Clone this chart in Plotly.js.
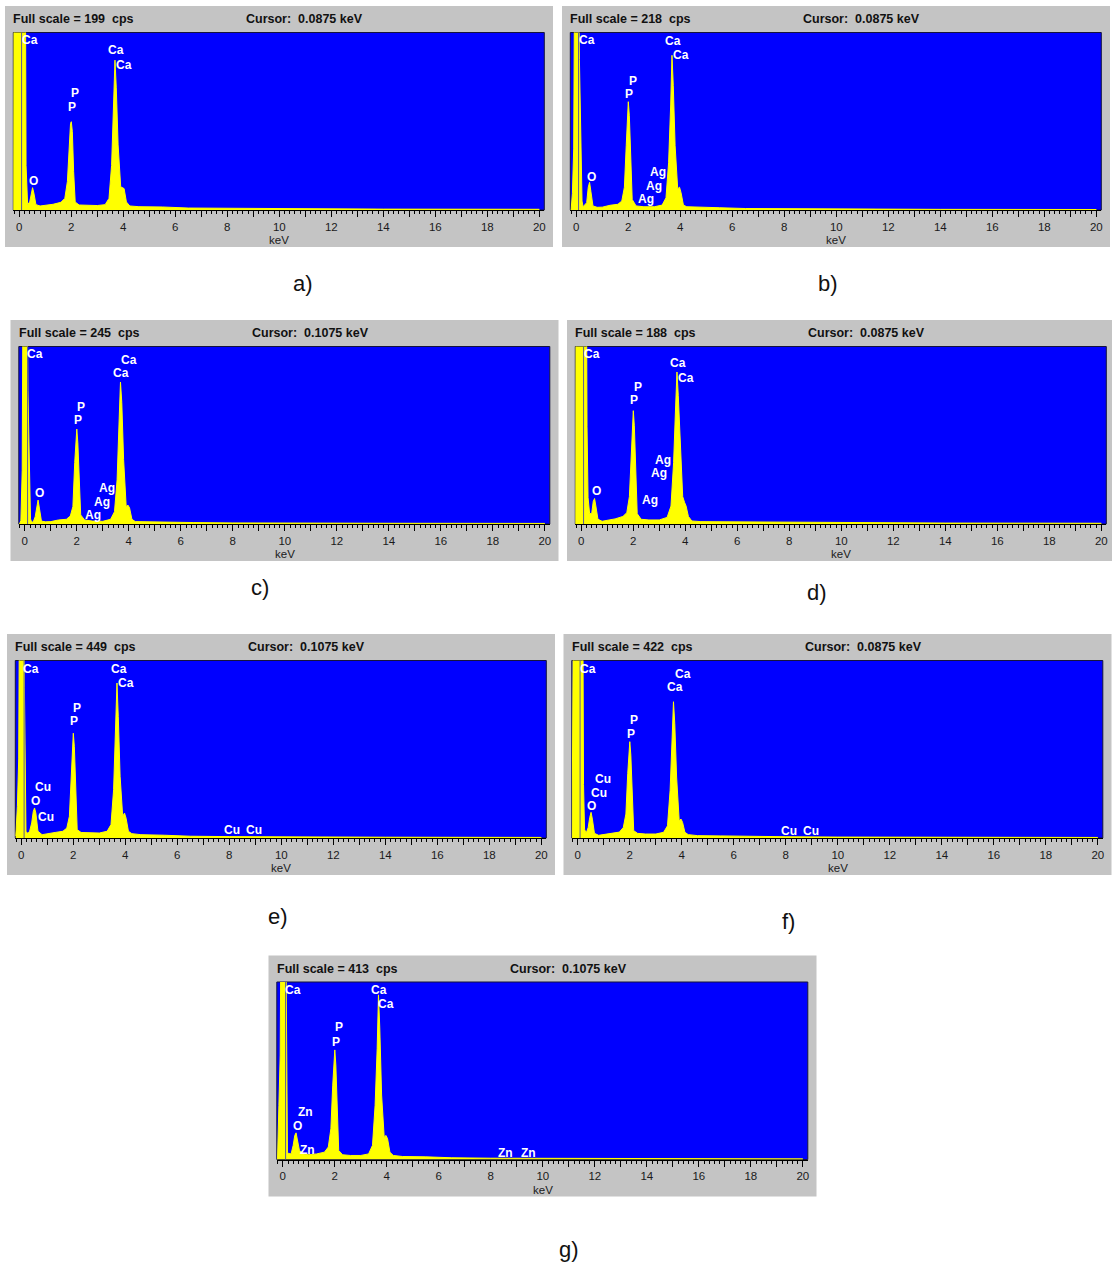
<!DOCTYPE html>
<html><head><meta charset="utf-8">
<script src="https://cdn.plot.ly/plotly-3.0.1.min.js"></script>
<style>html,body{margin:0;padding:0;background:#fff}#chart{width:1112px;height:1269px}</style>
</head><body><div id="chart"></div>
<script>
// ---------- DATA ----------
const energyKeV = [-0.22,-0.2,-0.15,-0.1,-0.05,0.05,0.12,0.18,0.22,0.26,0.32,0.4,0.46,0.51,0.56,0.64,0.8,1.0,1.3,1.6,1.75,1.85,1.92,1.97,2.0,2.04,2.09,2.15,2.3,2.6,3.0,3.3,3.45,3.55,3.63,3.68,3.73,3.8,3.9,3.97,4.03,4.12,4.25,4.6,5.5,6.5,8,10,14,20];

const countsA = [0,400,400,400,400, 400,400,400,400,50, 6,9,20,25,19, 6,4.5,5,6.4,8.6, 13,32,80,97,99, 88,43,9,5.6,5, 5,6,13,50,118, 168,137,73,26,25, 24,9,4.5,3.7,3.4, 2.2,1.9,1.3,1,0.8];
const countsB = [0,0,20,75,400, 400,185,65,11,4, 6,9,28,34,23, 5,3.3,3.5,5.8,7, 11,28,79,124,133, 116,58,13,5,4, 4,6,15,58,129, 190,153,79,26,28, 21,6,4,3.5,2.8, 1.8,1.5,1.2,0.8,0.6];
const countsC = [0,0,5,74,500, 500,184,49,7,3, 2.5,10,26,33,22, 4,3,3.3,5.6,6.5, 11,24,85,124,131, 112,52,12.5,5.6,4, 3.7,6.5,17,61,145, 196,168,89,24,26, 22,6.5,3.3,3,2.5, 2,1.5,1.2,1,0.8];
const countsD = [0,400,400,400,400, 400,400,400,103,28, 11,11,24,27,19, 5,2.9,3.6,5.4,8, 12,29,76,115,120, 104,51,11,5,4.3, 4.3,7,19,65,126, 161,136,83,29,23, 19,8,3.2,2.5,2.3, 2,1.6,1.2,1,0.8];
const countsE = [5,20,80,200,900, 900,380,17,12,13, 17,38,67,76,63, 17,8.4,10,14,17, 25,55,164,248,265, 232,105,21,14,12.6, 12.6,17,34,122,265, 392,307,156,55,63, 50,17,11,8.4,7, 4.5,3.5,2.5,2,1.5];
const countsF = [0,180,800,800,800, 800,800,800,127,21, 11,25,49,61,45, 11,6.4,8,12,14, 25,57,153,217,229, 197,89,17.5,11,9.5, 9.5,13.5,29,113,240, 324,272,145,41,45, 37,13.5,8,5.6,5, 3.5,3,2.2,1.7,1.3];
const countsG = [0,8,126,243,800, 800,500,17,14,13, 13,33,56,62,45, 21,13,11,13,17, 29,72,173,243,255, 220,103,21,11,9.4, 9.4,13,33,126,259, 383,306,150,52,56, 48,17,9.4,7,6.2, 4,3,2.5,2,1.5];

const fullScaleCps = [199,218,245,188,449,422,413];
const cursorKeV = [0.0875,0.0875,0.1075,0.0875,0.1075,0.0875,0.1075];
const panelLetters = ['a)','b)','c)','d)','e)','f)','g)'];

const tickVals = [0,1,2,3,4,5,6,7,8,9,10,11,12,13,14,15,16,17,18,19,20];
const tickLabels = ['0','','2','','4','','6','','8','','10','','12','','14','','16','','18','','20'];

const labelTextA = ['Ca','Ca','Ca','P','P','O'];
const labelKeVA  = [0.06,3.37,3.68,1.95,1.85,0.35];
const labelCpsA  = [191,179,163,131,115,33];
const labelTextB = ['Ca','Ca','Ca','P','P','O','Ag','Ag','Ag'];
const labelKeVB  = [0.05,3.36,3.68,1.97,1.85,0.36,2.8,2.64,2.32];
const labelCpsB  = [209,207,190,158,142,41,47,30,13];
const labelTextC = ['Ca','Ca','Ca','P','P','O','Ag','Ag','Ag'];
const labelKeVC  = [0.03,3.67,3.35,1.97,1.85,0.36,2.8,2.64,2.29];
const labelCpsC  = [234,227,208,161,143,43,50,31,12];
const labelTextD = ['Ca','Ca','Ca','P','P','O','Ag','Ag','Ag'];
const labelKeVD  = [0.05,3.36,3.68,1.97,1.85,0.36,2.8,2.64,2.29];
const labelCpsD  = [180,170,155,145,131,35,68,54,25];
const labelTextE = ['Ca','Ca','Ca','P','P','Cu','O','Cu','Cu','Cu'];
const labelKeVE  = [0.03,3.41,3.68,1.96,1.83,0.5,0.35,0.61,7.77,8.6];
const labelCpsE  = [427,427,393,329,295,128,93,53,19,19];
const labelTextF = ['Ca','Ca','Ca','P','P','Cu','Cu','O','Cu','Cu'];
const labelKeVF  = [0.03,3.7,3.38,1.97,1.84,0.61,0.48,0.32,7.79,8.64];
const labelCpsF  = [401,390,358,280,247,141,107,76,16,16];
const labelTextG = ['Ca','Ca','Ca','P','P','Zn','O','Zn','Zn','Zn'];
const labelKeVG  = [0.03,3.34,3.63,1.97,1.85,0.54,0.34,0.64,8.24,9.13];
const labelCpsG  = [395,395,362,308,273,111,78,23,16,16];

// ---------- LAYOUT ----------
const countsAll = [countsA,countsB,countsC,countsD,countsE,countsF,countsG];
const labelTexts = [labelTextA,labelTextB,labelTextC,labelTextD,labelTextE,labelTextF,labelTextG];
const labelKeVs = [labelKeVA,labelKeVB,labelKeVC,labelKeVD,labelKeVE,labelKeVF,labelKeVG];
const labelCpss = [labelCpsA,labelCpsB,labelCpsC,labelCpsD,labelCpsE,labelCpsF,labelCpsG];

const W = 1112, H = 1269;
const panelOrigins = [[5,6],[562,6],[10.5,320],[567,320],[7,634],[563.5,634],[268.5,955.5]];
const letterPos = [[303,283],[828,283],[260,587],[817,592],[278,916],[788,921],[569,1249]];
const FONT = '"Liberation Sans", Arial, sans-serif';

const traces = [], grayShapes = [], blueShapes = [], topShapes = [], annotations = [];
const layout = {
  width: W, height: H, margin: {l:0,r:0,t:0,b:0},
  paper_bgcolor: '#ffffff', plot_bgcolor: 'rgba(0,0,0,0)', showlegend: false
};
const px = v => v / W, py = v => 1 - v / H;

for (let i = 0; i < 7; i++) {
  const [gx, gy] = panelOrigins[i];
  const sfx = i === 0 ? '' : String(i + 1);
  const xn = 'x' + sfx, yn = 'y' + sfx;
  const bl = gx + 8.3, br = gx + 539.3, bt = gy + 26.5, bb = gy + 204;
  const zero = gx + 14.3, ppk = 26.0;

  layout['xaxis' + sfx] = {
    domain: [px(bl), px(br)], range: [(bl - zero) / ppk, (br - zero) / ppk], anchor: yn,
    showgrid: false, zeroline: false, showline: true, linecolor: '#000', linewidth: 1,
    ticks: 'outside', ticklen: 6, tickwidth: 1, tickcolor: '#000',
    tickmode: 'array', tickvals: tickVals, ticktext: tickLabels,
    tickfont: {family: FONT, size: 11.5, color: '#1a1a1a'},
    minor: {tickmode: 'linear', tick0: 0, dtick: 0.2, ticks: 'outside', ticklen: 3, tickwidth: 1, tickcolor: '#000', showgrid: false},
    fixedrange: true
  };
  layout['yaxis' + sfx] = {
    domain: [py(bb), py(bt)], range: [0, fullScaleCps[i]], anchor: xn,
    visible: false, fixedrange: true
  };

  grayShapes.push({type: 'rect', xref: 'paper', yref: 'paper', x0: px(gx), x1: px(gx + 548),
    y0: py(gy + 241), y1: py(gy), fillcolor: '#c4c4c4', line: {width: 0}, layer: 'below'});
  blueShapes.push({type: 'rect', xref: 'paper', yref: 'paper', x0: px(bl), x1: px(br),
    y0: py(bb), y1: py(bt), fillcolor: '#0000ff', line: {color: '#14143c', width: 1}, layer: 'below'});

  traces.push({
    type: 'scatter', mode: 'lines', x: energyKeV, y: countsAll[i], xaxis: xn, yaxis: yn,
    fill: 'tozeroy', fillcolor: '#ffff00', line: {color: '#ffff00', width: 1}, hoverinfo: 'skip'
  });

  topShapes.push({type: 'line', xref: xn, yref: yn + ' domain', x0: cursorKeV[i], x1: cursorKeV[i],
    y0: 0, y1: 1, line: {color: '#5a5a9a', width: 1}, layer: 'above'});

  annotations.push({xref: 'paper', yref: 'paper', x: px(gx + 6), y: py(gy + 13), xanchor: 'left', yanchor: 'middle',
    showarrow: false, text: '<b>Full scale = ' + fullScaleCps[i] + '\u00a0 cps</b>',
    font: {family: FONT, size: 12.5, color: '#111'}});
  annotations.push({xref: 'paper', yref: 'paper', x: px(gx + 239), y: py(gy + 13), xanchor: 'left', yanchor: 'middle',
    showarrow: false, text: '<b>Cursor:\u00a0 ' + cursorKeV[i].toFixed(4) + ' keV</b>',
    font: {family: FONT, size: 12.5, color: '#111'}});
  annotations.push({xref: 'paper', yref: 'paper', x: px(zero + 10 * ppk), y: py(gy + 234), xanchor: 'center', yanchor: 'middle',
    showarrow: false, text: 'keV', font: {family: FONT, size: 11.5, color: '#1a1a1a'}});
  annotations.push({xref: 'paper', yref: 'paper', x: px(letterPos[i][0]), y: py(letterPos[i][1]), xanchor: 'center', yanchor: 'middle',
    showarrow: false, text: panelLetters[i], font: {family: FONT, size: 22, color: '#111'}});

  const lt = labelTexts[i], lk = labelKeVs[i], lc = labelCpss[i];
  for (let j = 0; j < lt.length; j++) {
    annotations.push({xref: xn, yref: yn, x: lk[j], y: lc[j], xanchor: 'left', yanchor: 'middle',
      showarrow: false, text: '<b>' + lt[j] + '</b>', borderpad: 0,
      font: {family: FONT, size: 12, color: '#ffffff'}});
  }
}
layout.shapes = grayShapes.concat(blueShapes, topShapes);
layout.annotations = annotations;

Plotly.newPlot('chart', traces, layout, {staticPlot: true, displayModeBar: false});
</script>
</body></html>
